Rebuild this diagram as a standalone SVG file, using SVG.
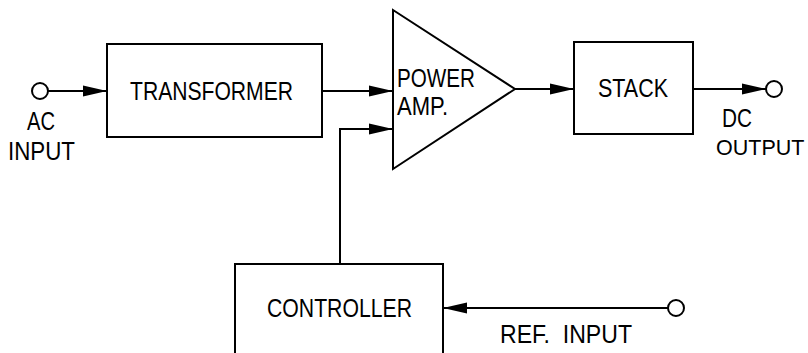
<svg xmlns="http://www.w3.org/2000/svg" width="808" height="353" viewBox="0 0 808 353">
<style>
  .box{fill:none;stroke:#000;stroke-width:2}
  .ln{fill:none;stroke:#000;stroke-width:2}
  .term{fill:#fff;stroke:#000;stroke-width:2}
  text{font-family:"Liberation Sans",Arial,sans-serif;font-size:25px;fill:#000}
</style>
<defs>
  <marker id="ah" markerUnits="userSpaceOnUse" markerWidth="26" markerHeight="14" refX="24" refY="7" orient="auto">
    <path d="M0,1.5 L24,7 L0,12.5 z" fill="#000"/>
  </marker>
</defs>
<rect width="808" height="353" fill="#fff"/>
<g id="connectors">
  <line class="ln" x1="48" y1="91" x2="107" y2="91" marker-end="url(#ah)"/>
  <line class="ln" x1="322" y1="91" x2="393" y2="91" marker-end="url(#ah)"/>
  <path class="ln" d="M340,264 V129 H393" marker-end="url(#ah)"/>
  <line class="ln" x1="515" y1="89" x2="574" y2="89" marker-end="url(#ah)"/>
  <line class="ln" x1="693" y1="89" x2="766" y2="89" marker-end="url(#ah)"/>
  <line class="ln" x1="668" y1="308" x2="443" y2="308" marker-end="url(#ah)"/>
</g>
<g id="ac-input">
  <circle class="term" cx="40" cy="91" r="8"/>
  <text x="27" y="130" textLength="28" lengthAdjust="spacingAndGlyphs">AC</text>
  <text x="8" y="160" textLength="67" lengthAdjust="spacingAndGlyphs">INPUT</text>
</g>
<g id="transformer">
  <rect class="box" x="107" y="44" width="215" height="93"/>
  <text x="130" y="100" textLength="163" lengthAdjust="spacingAndGlyphs">TRANSFORMER</text>
</g>
<g id="power-amp">
  <polygon class="box" points="393,10 515,89 393,169"/>
  <text x="397" y="87" textLength="78" lengthAdjust="spacingAndGlyphs">POWER</text>
  <text x="397" y="115" textLength="51" lengthAdjust="spacingAndGlyphs">AMP.</text>
</g>
<g id="stack">
  <rect class="box" x="574" y="42" width="119" height="92"/>
  <text x="598" y="97" textLength="70" lengthAdjust="spacingAndGlyphs">STACK</text>
</g>
<g id="dc-output">
  <circle class="term" cx="774" cy="89" r="8"/>
  <text x="722" y="127" textLength="30" lengthAdjust="spacingAndGlyphs">DC</text>
  <text x="716" y="155" style="font-size:21.5px">OUTPUT</text>
</g>
<g id="controller">
  <path class="box" d="M235,360 V264 H443 V360"/>
  <text x="267" y="317" textLength="145" lengthAdjust="spacingAndGlyphs">CONTROLLER</text>
</g>
<g id="ref-input">
  <circle class="term" cx="676" cy="308" r="8"/>
  <text x="500" y="343" textLength="132" lengthAdjust="spacingAndGlyphs" xml:space="preserve">REF.  INPUT</text>
</g>
</svg>
